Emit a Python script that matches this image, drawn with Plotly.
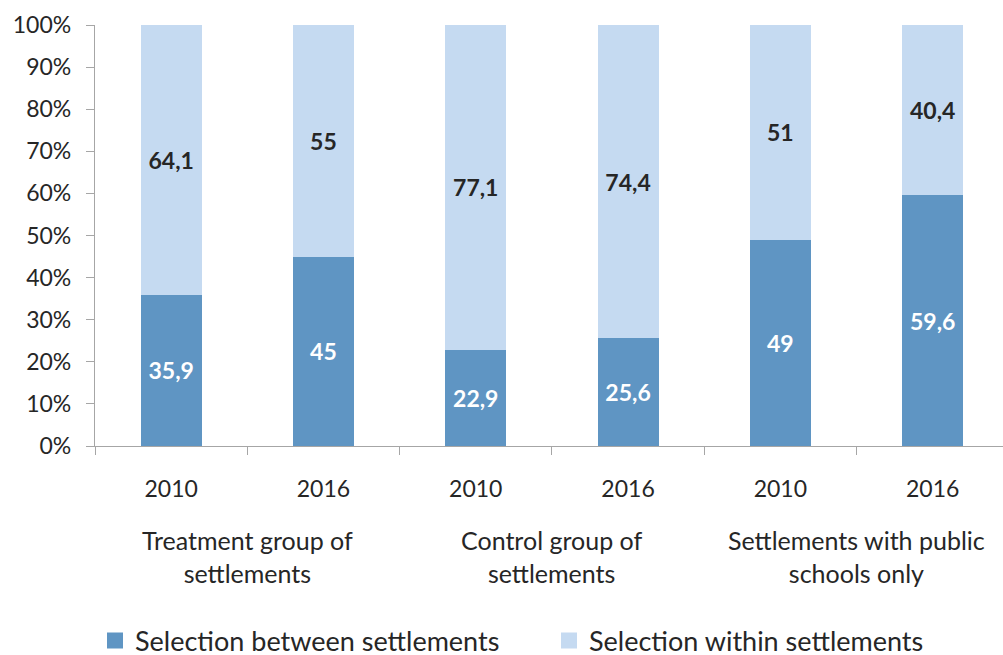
import plotly.graph_objects as go

years = ["2010", "2016", "2010", "2016", "2010", "2016"]
groups = ["Treatment group of<br>settlements", "Control group of<br>settlements",
          "Settlements with public<br>schools only"]
between = [35.9, 45, 22.9, 25.6, 49, 59.6]
within = [64.1, 55, 77.1, 74.4, 51, 40.4]
y_ticks = [0, 10, 20, 30, 40, 50, 60, 70, 80, 90, 100]
series_names = ["Selection between settlements", "Selection within settlements"]

C_DARK = "#5f95c3"
C_LIGHT = "#c5daf1"
FONT = "Lato"
TXT = "#262626"

xs = list(range(len(years)))


def fmt(v):
    return ("{:g}".format(v)).replace(".", ",")


fig = go.Figure()
fig.add_trace(go.Bar(
    x=xs, y=between, marker=dict(color=C_DARK, line=dict(width=0)), width=0.4,
    text=[fmt(v) for v in between], textposition="inside", insidetextanchor="middle",
    textfont=dict(family=FONT, size=23, color="white", weight="bold"),
    constraintext="none", showlegend=False, hoverinfo="skip"))
fig.add_trace(go.Bar(
    x=xs, y=within, marker=dict(color=C_LIGHT, line=dict(width=0)), width=0.4,
    text=[fmt(v) for v in within], textposition="inside", insidetextanchor="middle",
    textfont=dict(family=FONT, size=23, color=TXT, weight="bold"),
    constraintext="none", showlegend=False, hoverinfo="skip"))

# legend-only entries
for name, col, lg in [(series_names[0], C_DARK, "legend"), (series_names[1], C_LIGHT, "legend2")]:
    fig.add_trace(go.Scatter(x=[None], y=[None], mode="markers", name=name, legend=lg,
                             marker=dict(symbol="square", size=17, color=col)))

for i, g in enumerate(groups):
    fig.add_annotation(x=2 * i + 0.5, y=-0.263, xref="x", yref="paper", text=g,
                       showarrow=False, yanchor="middle", xanchor="center",
                       font=dict(family=FONT, size=25, color=TXT), align="center")

W, H = 1003, 655
left, top, bottom = 95, 25, 209
span = 152.3
xmax = -0.5 + (W - left) / span

leg_common = dict(orientation="h", xref="container", yref="container", y=14 / H,
                  xanchor="left", yanchor="middle", itemclick=False,
                  font=dict(family=FONT, size=27, color=TXT), bgcolor="rgba(0,0,0,0)")

fig.update_layout(
    width=W, height=H, barmode="stack",
    margin=dict(l=left, r=0, t=top, b=bottom, pad=0),
    plot_bgcolor="white", paper_bgcolor="white",
    font=dict(family=FONT, size=23, color=TXT),
    xaxis=dict(range=[-0.5, xmax], tickmode="array", tickvals=xs, ticktext=years,
               ticks="", showgrid=False, zeroline=False, showline=True,
               linecolor="#a6a6a6", linewidth=1.3, ticklabelstandoff=22,
               tickfont=dict(family=FONT, size=23, color=TXT),
               minor=dict(tickvals=[i - 0.5 for i in range(len(years) + 1)], ticks="outside",
                          ticklen=8, tickcolor="#a6a6a6", tickwidth=1.3, showgrid=False)),
    yaxis=dict(range=[0, 100], tickmode="array", tickvals=y_ticks,
               ticktext=[f"{v}%" for v in y_ticks], ticks="outside", ticklen=8,
               tickcolor="#a6a6a6", tickwidth=1.3, showline=True, linecolor="#a6a6a6",
               linewidth=1.3, showgrid=False, zeroline=False, ticklabelstandoff=10,
               tickfont=dict(family=FONT, size=23, color=TXT)),
    legend=dict(x=95 / W, **leg_common),
    legend2=dict(x=549 / W, **leg_common),
)

fig.write_html("out.html")
